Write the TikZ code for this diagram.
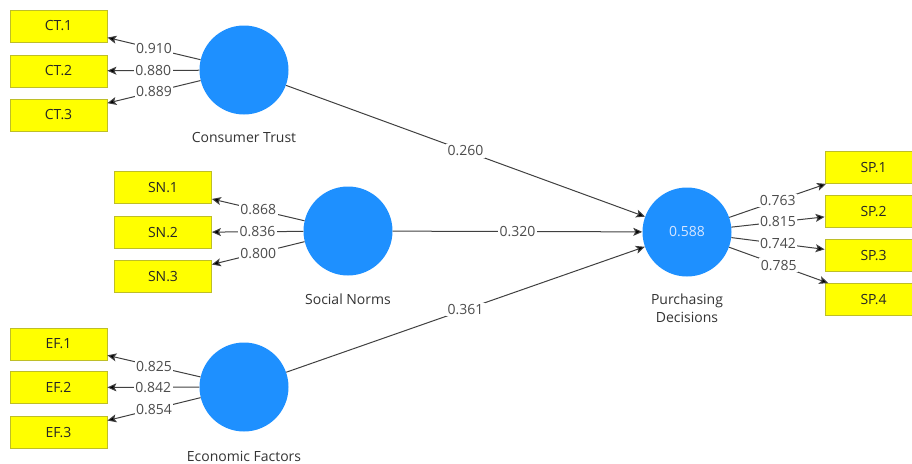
\documentclass[tikz,border=0pt]{standalone}
\usepackage{fontspec}
\setmainfont{Open Sans}
\usetikzlibrary{arrows.meta}
\definecolor{lvblue}{RGB}{30,144,255}
\definecolor{lvtext}{RGB}{214,230,255}
\definecolor{mvyellow}{RGB}{255,255,0}
\definecolor{mvedge}{RGB}{190,190,40}

\begin{document}
\begin{tikzpicture}[x=1pt,y=-1pt,
    every node/.style={font=\fontsize{14}{18}\selectfont},
    latent/.style={circle,fill=lvblue,minimum size=89pt,inner sep=0pt,text=lvtext},
    indicator/.style={rectangle,fill=mvyellow,draw=mvedge,line width=0.8pt,minimum width=97pt,minimum height=32pt,inner sep=0pt,text=black!85},
    lvname/.style={inner sep=0pt,text=black!80},
    link/.style={draw=black!75,line width=1pt,-{Stealth[length=9pt,width=8pt,inset=2pt,fill=black]}},
    coef/.style={midway,fill=white,inner sep=1.5pt,text=black!70}]
    \useasboundingbox (0,0) rectangle (912,463);
    % latent variables
    \node[latent] (ct) at (244,70) {};
    \node[latent] (sn) at (348,231) {};
    \node[latent] (ef) at (244,387) {};
    \node[latent] (pd) at (687,232) {0.588};
    \node[lvname] (ctlabel) at (244,137) {Consumer Trust};
    \node[lvname] (snlabel) at (348,299) {Social Norms};
    \node[lvname] (eflabel) at (244,456) {Economic Factors};
    \node[lvname,align=center,anchor=north] (pdlabel) at (687,294) {Purchasing\\Decisions};
    % indicators and loadings
    \foreach \i/\y/\v in {1/26/0.910,2/71/0.880,3/115/0.889}{
        \node[indicator] (ct\i) at (58.5,\y) {CT.\i};
        \draw[link] (ct) -- node[coef] {\v} (ct\i);
    }
    \foreach \i/\y/\v in {1/187.5/0.868,2/232.5/0.836,3/276.5/0.800}{
        \node[indicator] (sn\i) at (163,\y) {SN.\i};
        \draw[link] (sn) -- node[coef] {\v} (sn\i);
    }
    \foreach \i/\y/\v in {1/344/0.825,2/387.5/0.842,3/432.5/0.854}{
        \node[indicator] (ef\i) at (58.5,\y) {EF.\i};
        \draw[link] (ef) -- node[coef] {\v} (ef\i);
    }
    \foreach \i/\y/\v in {1/167.5/0.763,2/211.5/0.815,3/255.5/0.742,4/299.5/0.785}{
        \node[indicator] (sp\i) at (873.5,\y) {SP.\i};
        \draw[link] (pd) -- node[coef] {\v} (sp\i);
    }
    % path coefficients
    \draw[link] (ct) -- node[coef] {0.260} (pd);
    \draw[link] (sn) -- node[coef] {0.320} (pd);
    \draw[link] (ef) -- node[coef] {0.361} (pd);
\end{tikzpicture}
\end{document}
